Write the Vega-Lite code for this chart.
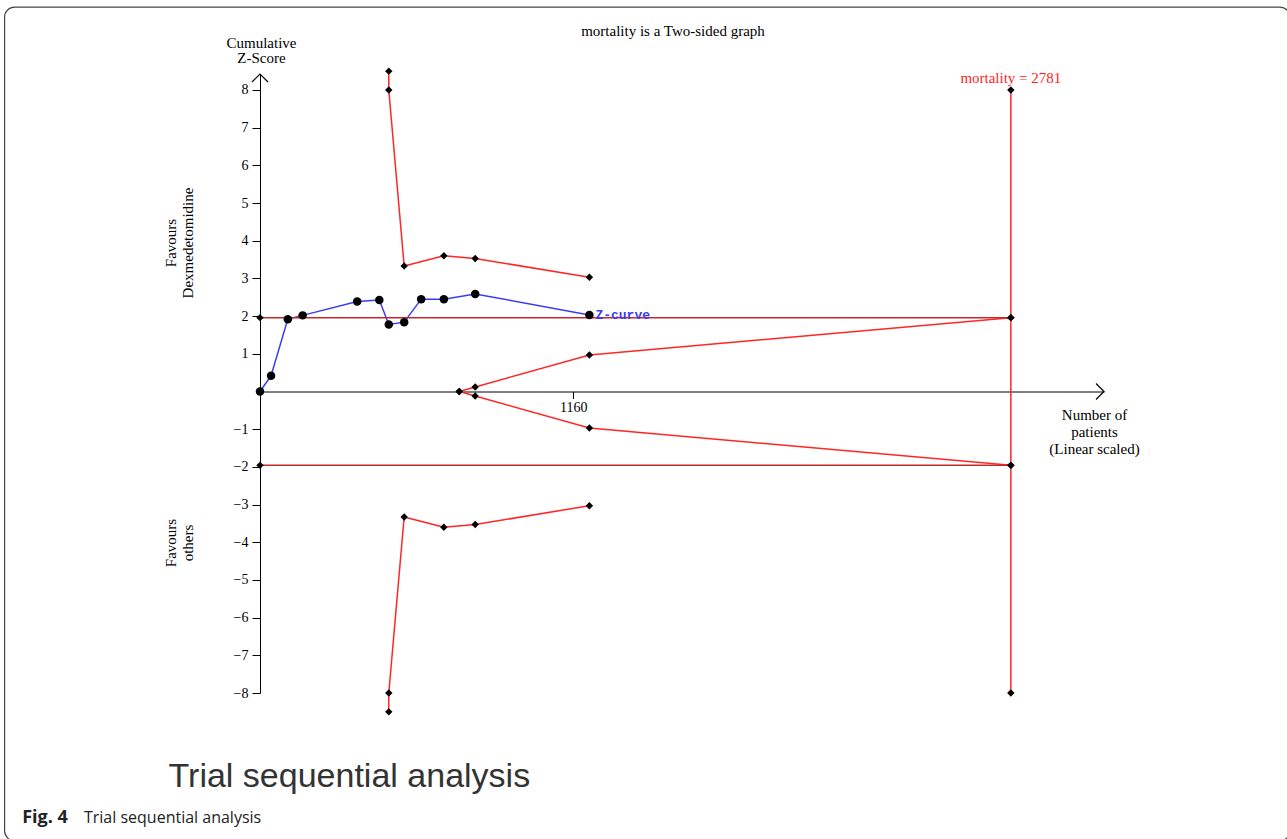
{
  "$schema": "https://vega.github.io/schema/vega-lite/v6.json",
  "width": 844,
  "height": 619,
  "autosize": {"type": "none"},
  "padding": {"left": 260, "top": 74, "right": 183, "bottom": 146},
  "background": "white",
  "config": {"view": {"stroke": null}, "font": "Liberation Serif"},
  "title": {"text": "mortality is a Two-sided graph", "font": "Liberation Serif", "fontSize": 15, "fontWeight": "normal", "color": "black", "anchor": "middle", "dx": -9, "offset": -33},
  "datasets": {
    "lines": [
      {"series": "zcurve", "ord": 1, "n": 0, "z": 0},
      {"series": "zcurve", "ord": 2, "n": 41, "z": 0.42},
      {"series": "zcurve", "ord": 3, "n": 103, "z": 1.92},
      {"series": "zcurve", "ord": 4, "n": 158, "z": 2.02},
      {"series": "zcurve", "ord": 5, "n": 360, "z": 2.39},
      {"series": "zcurve", "ord": 6, "n": 442, "z": 2.43},
      {"series": "zcurve", "ord": 7, "n": 477, "z": 1.78},
      {"series": "zcurve", "ord": 8, "n": 534, "z": 1.84},
      {"series": "zcurve", "ord": 9, "n": 597, "z": 2.45},
      {"series": "zcurve", "ord": 10, "n": 681, "z": 2.45},
      {"series": "zcurve", "ord": 11, "n": 797, "z": 2.59},
      {"series": "zcurve", "ord": 12, "n": 1220, "z": 2.03},
      {"series": "upper", "ord": 1, "n": 477, "z": 8.5},
      {"series": "upper", "ord": 2, "n": 477, "z": 8},
      {"series": "upper", "ord": 3, "n": 534, "z": 3.33},
      {"series": "upper", "ord": 4, "n": 681, "z": 3.6},
      {"series": "upper", "ord": 5, "n": 797, "z": 3.53},
      {"series": "upper", "ord": 6, "n": 1220, "z": 3.03},
      {"series": "lower", "ord": 1, "n": 477, "z": -8.5},
      {"series": "lower", "ord": 2, "n": 477, "z": -8},
      {"series": "lower", "ord": 3, "n": 534, "z": -3.33},
      {"series": "lower", "ord": 4, "n": 681, "z": -3.6},
      {"series": "lower", "ord": 5, "n": 797, "z": -3.53},
      {"series": "lower", "ord": 6, "n": 1220, "z": -3.03},
      {"series": "fut_up", "ord": 1, "n": 738, "z": 0},
      {"series": "fut_up", "ord": 2, "n": 797, "z": 0.12},
      {"series": "fut_up", "ord": 3, "n": 1220, "z": 0.97},
      {"series": "fut_up", "ord": 4, "n": 2781, "z": 1.96},
      {"series": "fut_lo", "ord": 1, "n": 738, "z": 0},
      {"series": "fut_lo", "ord": 2, "n": 797, "z": -0.12},
      {"series": "fut_lo", "ord": 3, "n": 1220, "z": -0.97},
      {"series": "fut_lo", "ord": 4, "n": 2781, "z": -1.96},
      {"series": "vert", "ord": 1, "n": 2781, "z": 8},
      {"series": "vert", "ord": 2, "n": 2781, "z": -8},
      {"series": "h_up", "ord": 1, "n": 0, "z": 1.96},
      {"series": "h_up", "ord": 2, "n": 2781, "z": 1.96},
      {"series": "h_lo", "ord": 1, "n": 0, "z": -1.96},
      {"series": "h_lo", "ord": 2, "n": 2781, "z": -1.96}
    ]
  },
  "layer": [
    {
      "data": {"name": "lines"},
      "mark": {"type": "line", "strokeWidth": 1.5, "clip": false},
      "encoding": {
        "x": {"field": "n", "type": "quantitative", "scale": {"domain": [0, 3126], "nice": false, "zero": false},
          "axis": {"values": [1160], "format": "d", "orient": "bottom", "offset": -301.5, "tickSize": 7, "tickColor": "black", "domainColor": "black", "domainWidth": 1, "grid": false,
            "labelFont": "Liberation Serif", "labelFontSize": 14, "labelColor": "black", "labelPadding": 2, "labelFlush": false,
            "title": ["Number of", "patients", "(Linear scaled)"], "titleX": 834, "titleY": 16, "titleAlign": "center", "titleBaseline": "top", "titleAngle": 0,
            "titleFont": "Liberation Serif", "titleFontSize": 15, "titleFontWeight": "normal", "titleColor": "black", "titleLineHeight": 17}},
        "y": {"field": "z", "type": "quantitative", "scale": {"domain": [-8, 8.4245], "nice": false, "zero": false},
          "axis": {"values": [-8, -7, -6, -5, -4, -3, -2, -1, 1, 2, 3, 4, 5, 6, 7, 8], "orient": "left", "tickSize": 8, "tickColor": "black", "domainColor": "black", "domainWidth": 1, "grid": false,
            "labelFont": "Liberation Serif", "labelFontSize": 14, "labelColor": "black", "labelPadding": 4, "labelFlush": false,
            "title": ["Cumulative", "Z-Score"], "titleX": 1, "titleY": -24, "titleAlign": "center", "titleBaseline": "bottom", "titleAngle": 0,
            "titleFont": "Liberation Serif", "titleFontSize": 15, "titleFontWeight": "normal", "titleColor": "black", "titleLineHeight": 15}},
        "color": {"field": "series", "type": "nominal", "legend": null,
          "scale": {"domain": ["zcurve", "upper", "lower", "fut_up", "fut_lo", "vert", "h_up", "h_lo"],
            "range": ["#3b3bf5", "#ff2626", "#ff2626", "#ff2626", "#ff2626", "#ff2626", "#c42a2a", "#c42a2a"]}},
        "detail": {"field": "series"},
        "order": {"field": "ord", "type": "quantitative"}
      }
    },
    {
      "data": {"name": "lines"},
      "transform": [{"filter": "datum.series !== 'zcurve'"}],
      "mark": {"type": "point", "shape": "diamond", "filled": true, "color": "black", "size": 55, "opacity": 1, "clip": false},
      "encoding": {
        "x": {"field": "n", "type": "quantitative"},
        "y": {"field": "z", "type": "quantitative"}
      }
    },
    {
      "data": {"name": "lines"},
      "transform": [{"filter": "datum.series === 'zcurve'"}],
      "mark": {"type": "point", "shape": "circle", "filled": true, "color": "black", "size": 72, "opacity": 1, "clip": false},
      "encoding": {
        "x": {"field": "n", "type": "quantitative"},
        "y": {"field": "z", "type": "quantitative"}
      }
    },
    {
      "data": {"values": [{}]},
      "mark": {"type": "point", "shape": "M -1 1 L 0 0 L 1 1", "filled": false, "color": "black", "strokeWidth": 1.2, "size": 256, "opacity": 1, "clip": false},
      "encoding": {"x": {"datum": 0, "type": "quantitative"}, "y": {"datum": 8.4245, "type": "quantitative"}}
    },
    {
      "data": {"values": [{}]},
      "mark": {"type": "point", "shape": "M -1 -1 L 0 0 L -1 1", "filled": false, "color": "black", "strokeWidth": 1.2, "size": 256, "opacity": 1, "clip": false},
      "encoding": {"x": {"datum": 3126, "type": "quantitative"}, "y": {"datum": 0, "type": "quantitative"}}
    },
    {
      "data": {"values": [{}]},
      "mark": {"type": "text", "font": "Liberation Mono", "fontSize": 13, "fontWeight": "bold", "color": "#3b3bf5", "align": "left", "baseline": "middle", "dx": 6},
      "encoding": {"x": {"datum": 1220, "type": "quantitative"}, "y": {"datum": 2.03, "type": "quantitative"}, "text": {"value": "Z-curve"}}
    },
    {
      "data": {"values": [{}]},
      "mark": {"type": "text", "font": "Liberation Serif", "fontSize": 15, "color": "#ff1f1f", "align": "center", "baseline": "middle"},
      "encoding": {"x": {"datum": 2781, "type": "quantitative"}, "y": {"datum": 8.32, "type": "quantitative"}, "text": {"value": "mortality = 2781"}}
    },
    {
      "data": {"values": [{}]},
      "mark": {"type": "text", "font": "Liberation Serif", "fontSize": 15, "color": "black", "align": "center", "baseline": "middle", "angle": 270, "lineHeight": 17},
      "encoding": {"x": {"datum": -330, "type": "quantitative"}, "y": {"datum": 3.94, "type": "quantitative"}, "text": {"value": ["Favours", "Dexmedetomidine"]}}
    },
    {
      "data": {"values": [{}]},
      "mark": {"type": "text", "font": "Liberation Serif", "fontSize": 15, "color": "black", "align": "center", "baseline": "middle", "angle": 270, "lineHeight": 17},
      "encoding": {"x": {"datum": -330, "type": "quantitative"}, "y": {"datum": -4.02, "type": "quantitative"}, "text": {"value": ["Favours", "others"]}}
    },
    {
      "data": {"values": [{}]},
      "mark": {"type": "text", "font": "Liberation Sans", "fontSize": 34, "color": "#333333", "align": "center", "baseline": "middle"},
      "encoding": {"x": {"datum": 331, "type": "quantitative"}, "y": {"datum": -10.23, "type": "quantitative"}, "text": {"value": "Trial sequential analysis"}}
    },
    {
      "data": {"values": [{}]},
      "mark": {"type": "text", "font": "Open Sans", "fontSize": 18, "fontWeight": "bold", "color": "#222222", "align": "left", "baseline": "middle"},
      "encoding": {"x": {"datum": -881, "type": "quantitative"}, "y": {"datum": -11.32, "type": "quantitative"}, "text": {"value": "Fig. 4"}}
    },
    {
      "data": {"values": [{}]},
      "mark": {"type": "text", "font": "Open Sans", "fontSize": 16, "color": "#222222", "align": "left", "baseline": "middle"},
      "encoding": {"x": {"datum": -652, "type": "quantitative"}, "y": {"datum": -11.32, "type": "quantitative"}, "text": {"value": "Trial sequential analysis"}}
    },
    {
      "data": {"values": [{}]},
      "mark": {"type": "rect", "fill": null, "stroke": "#444444", "strokeWidth": 1.2, "cornerRadius": 10, "clip": false},
      "encoding": {"x": {"datum": -946, "type": "quantitative"}, "x2": {"datum": 3815}, "y": {"datum": 10.2, "type": "quantitative"}, "y2": {"datum": -11.92}}
    }
  ]
}
